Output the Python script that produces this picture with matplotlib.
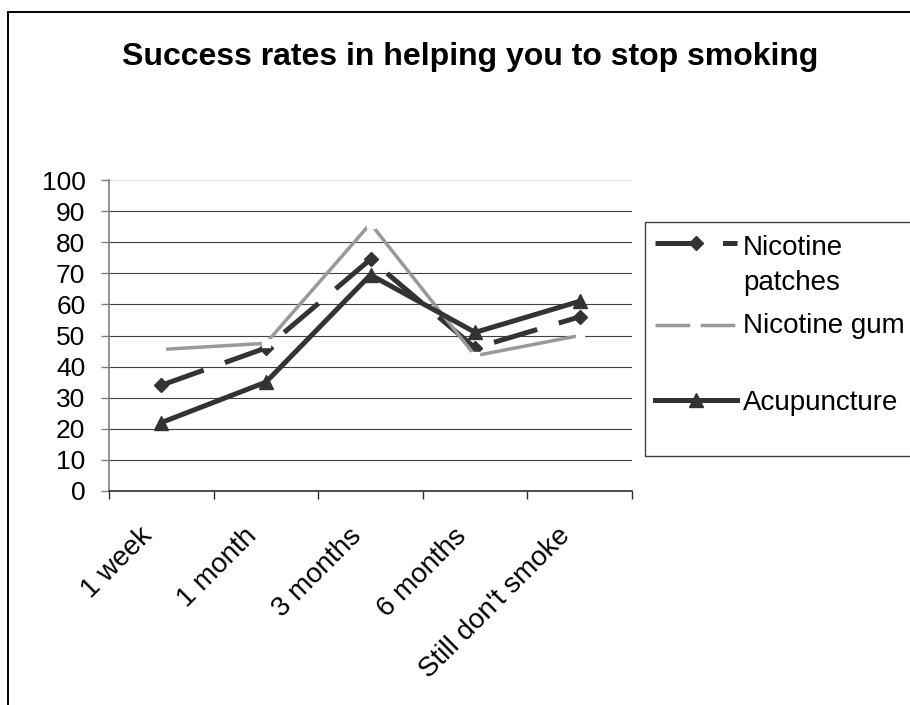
import matplotlib
matplotlib.use("Agg")
import matplotlib.pyplot as plt
from matplotlib.lines import Line2D
from matplotlib.patches import Rectangle
from matplotlib.ticker import FixedLocator
from matplotlib.transforms import ScaledTranslation

plt.rcParams['font.family'] = ['Liberation Sans', 'DejaVu Sans']

title = "Success rates in helping you to stop smoking"
categories = ["1 week", "1 month", "3 months", "6 months", "Still don't smoke"]
nicotine_patches = [34, 46, 74.5, 46, 56]
nicotine_gum = [45.5, 47.5, 86, 43.5, 50]
acupuncture = [22, 35, 69.5, 51, 61]
series_labels = ["Nicotine\npatches", "Nicotine gum", "Acupuncture"]
y_ticks = list(range(0, 101, 10))

W, H = 910, 705
DARK = '#333333'
GRAY = '#999999'


def fx(px):
    return px / W


def fy(py):
    return 1 - py / H


fig = plt.figure(figsize=(W / 100, H / 100), dpi=100)
ax = fig.add_axes([fx(109), fy(491), fx(632) - fx(109), fy(180) - fy(491)])

x = list(range(len(categories)))
ax.plot(x, nicotine_patches, color=DARK, lw=3.6, dashes=(9, 4.5),
        marker='D', ms=7, mfc=DARK, mec=DARK, zorder=3)
ax.plot(x, nicotine_gum, color=GRAY, lw=2.5,
        marker='s', ms=6, mfc='white', mec='white', zorder=4)
ax.plot(x, acupuncture, color=DARK, lw=3.6,
        marker='^', ms=10, mfc=DARK, mec=DARK, zorder=5)

ax.set_xlim(-0.5, len(categories) - 0.5)
ax.set_ylim(0, 100)
ax.set_yticks(y_ticks)
ax.yaxis.grid(True, color='#404040', lw=0.8)
ax.get_ygridlines()[-1].set_color('#e6e6e6')
ax.set_axisbelow(True)

for side in ['top', 'right']:
    ax.spines[side].set_visible(False)
ax.spines['left'].set_color('#808080')
ax.spines['left'].set_linewidth(1.2)
ax.spines['bottom'].set_color('#303030')
ax.spines['bottom'].set_linewidth(1.2)

ax.tick_params(axis='y', length=6, width=1, color='#808080', pad=11, labelsize=19)

# category labels centred, tick marks on boundaries
ax.set_xticks(x)
ax.set_xticklabels(categories, rotation=45, ha='right', va='center',
                   rotation_mode='anchor', fontsize=20)
ax.tick_params(axis='x', which='major', length=0, pad=34)
shift = ScaledTranslation(-13 / 100, 6 / 100, fig.dpi_scale_trans)
for lab in ax.get_xticklabels():
    lab.set_transform(lab.get_transform() + shift)
ax.xaxis.set_minor_locator(FixedLocator([i - 0.5 for i in range(len(categories) + 1)]))
ax.tick_params(axis='x', which='minor', length=6, width=1, color='#303030')

fig.text(fx(470), fy(65), title, ha='center', va='baseline',
         fontsize=23, fontweight='bold')

# outer chart border (runs off the right and bottom edges)
fig.add_artist(Rectangle((fx(8), -0.1), 1.2, fy(12) + 0.1, transform=fig.transFigure,
                         fill=False, ec='black', lw=1.4, clip_on=False))

# legend box
fig.add_artist(Rectangle((fx(645), fy(456)), 0.5, fy(222) - fy(456), transform=fig.transFigure,
                         fill=False, ec='#404040', lw=1.0, clip_on=False))

handle_y = [243, 325, 400]
text_y = [255, 333, 410]
styles = [
    dict(color=DARK, lw=3.6, dashes=(9, 4.5), marker='D', ms=7),
    dict(color=GRAY, lw=2.5, dashes=(10, 3), marker=None, ms=0),
    dict(color=DARK, lw=3.6, dashes=None, marker='^', ms=10),
]
for label, hy, ty, st in zip(series_labels, handle_y, text_y, styles):
    line = Line2D([fx(655), fx(737)], [fy(hy), fy(hy)], transform=fig.transFigure,
                  color=st['color'], lw=st['lw'])
    if st['dashes']:
        line.set_dashes(st['dashes'])
    fig.add_artist(line)
    if st['marker']:
        fig.add_artist(Line2D([fx(696)], [fy(hy)], transform=fig.transFigure,
                              marker=st['marker'], ms=st['ms'], color=st['color'], lw=0))
    for k, part in enumerate(label.split('\n')):
        fig.text(fx(743), fy(ty + 35 * k), part, ha='left', va='baseline', fontsize=20)

fig.savefig('out.png', dpi=100)
